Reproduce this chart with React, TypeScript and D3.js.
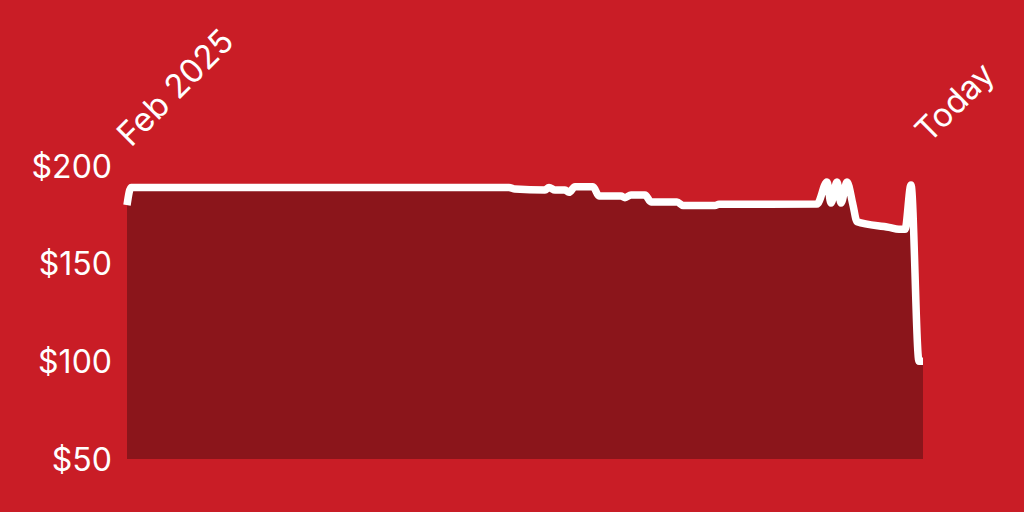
import React from 'react';
import * as d3 from 'd3';

// price history, day offsets counted from Feb 2025
const days = [
  0, 2, 191, 194, 209, 211, 214, 219, 221, 224, 233, 236, 247, 249, 252, 259, 262, 275,
  278, 294, 296, 345, 350, 352, 355, 357, 360, 363, 365, 381, 386, 389, 392, 396, 398,
];
const prices = [
  180, 189, 189, 188.2, 187.7, 189, 187.7, 187.7, 186.5, 189.4, 189.4, 184.6, 184.6, 183.8,
  185.2, 185.2, 181.6, 181.6, 179.8, 179.8, 180.4, 180.5, 191.8, 181, 191.8, 181, 191.8, 180,
  171.5, 168.6, 167.6, 167.6, 190.3, 100, 100,
];
const yTicks = [50, 100, 150, 200];
const startLabel = 'Feb 2025';
const endLabel = 'Today';

const width = 1024;
const height = 512;
const bg = '#C91D26';
const areaFill = '#8B151B';
const font = 'Inter, "Noto Sans", sans-serif';

export default function App() {
  const data = days.map((d, i) => ({ day: d, price: prices[i] }));

  const x = d3.scaleLinear().domain([0, d3.max(days) as number]).range([127, 923]);
  const y = d3.scaleLinear().domain([50, 200]).range([459, 166]);

  const area = d3
    .area<{ day: number; price: number }>()
    .x(d => x(d.day))
    .y0(y(50))
    .y1(d => y(d.price))
    .curve(d3.curveMonotoneX);

  const line = d3
    .line<{ day: number; price: number }>()
    .x(d => x(d.day))
    .y(d => y(d.price))
    .curve(d3.curveMonotoneX);

  return (
    <svg
      width={width}
      height={height}
      style={{ position: 'absolute', left: 0, top: 0, display: 'block' }}
    >
      <rect width={width} height={height} fill={bg} />
      <path d={area(data) || ''} fill={areaFill} />
      <path
        d={line(data) || ''}
        fill="none"
        stroke="#fff"
        strokeWidth={7.5}
        strokeLinejoin="round"
      />

      {yTicks.map(t => (
        <text
          key={t}
          x={112}
          y={y(t)}
          textAnchor="end"
          dominantBaseline="central"
          fill="#fff"
          fontFamily={font}
          fontSize={32}
        >
          ${t}
        </text>
      ))}

      <text
        transform={`translate(${x(0) + 4},${148}) rotate(-45)`}
        fill="#fff"
        fontFamily={font}
        fontSize={33}
      >
        {startLabel}
      </text>
      <text
        transform={`translate(${x(398) + 6},${144}) rotate(-45)`}
        fill="#fff"
        fontFamily={font}
        fontSize={33}
      >
        {endLabel}
      </text>
    </svg>
  );
}
